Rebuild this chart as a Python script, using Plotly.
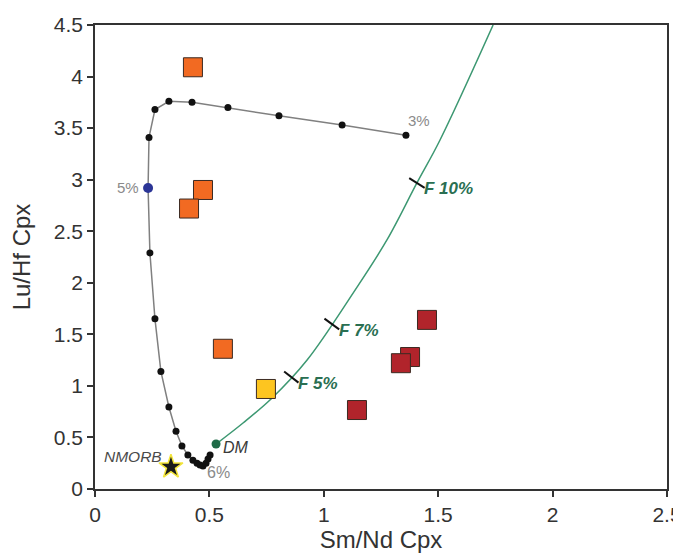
import plotly.graph_objects as go

# Black melting curve (Sm/Nd vs Lu/Hf)
curve_x = [1.359, 1.080, 0.804, 0.581, 0.424, 0.323, 0.262, 0.236, 0.232, 0.240, 0.262,
           0.288, 0.323, 0.354, 0.380, 0.406, 0.428, 0.446, 0.459, 0.472, 0.485, 0.494, 0.503]
curve_y = [3.43, 3.53, 3.62, 3.70, 3.75, 3.76, 3.68, 3.41, 2.92, 2.29, 1.65,
           1.14, 0.795, 0.56, 0.417, 0.33, 0.28, 0.25, 0.233, 0.223, 0.25, 0.29, 0.33]
blue_x = [0.232]
blue_y = [2.92]

# Green DM melting curve
dm_x = [0.529, 0.647, 0.774, 0.927, 1.128, 1.276, 1.407, 1.508, 1.740]
dm_y = [0.436, 0.640, 0.883, 1.251, 1.900, 2.415, 2.968, 3.385, 4.500]
f_x = [0.858, 1.035, 1.407]
f_y = [1.086, 1.600, 2.968]
f_labels = ["F 5%", "F 7%", "F 10%"]
f_angles = [38, 36, 32]

# Samples
orange_x = [0.428, 0.472, 0.411, 0.559]
orange_y = [4.09, 2.90, 2.72, 1.36]
yellow_x = [0.747]
yellow_y = [0.97]
red_x = [1.451, 1.377, 1.337, 1.145]
red_y = [1.64, 1.28, 1.22, 0.766]
nmorb_x = [0.332]
nmorb_y = [0.215]

x_ticks = [0, 0.5, 1, 1.5, 2, 2.5]
x_tick_text = ["0", "0.5", "1", "1.5", "2", "2.5"]
y_ticks = [0, 0.5, 1, 1.5, 2, 2.5, 3, 3.5, 4, 4.5]
y_tick_text = ["0", "0.5", "1", "1.5", "2", "2.5", "3", "3.5", "4", "4.5"]

GREEN_LINE = "#3d9872"
GREEN_TEXT = "#2a6f52"
FONT = "Liberation Sans, Arial, sans-serif"

fig = go.Figure()

fig.add_trace(go.Scatter(x=dm_x, y=dm_y, mode="lines",
                         line=dict(color=GREEN_LINE, width=1.5, shape="spline", smoothing=1.0),
                         hoverinfo="skip"))
fig.add_trace(go.Scatter(x=dm_x[:1], y=dm_y[:1], mode="markers",
                         marker=dict(color="#1f6b48", size=9)))
fig.add_trace(go.Scatter(x=f_x, y=f_y, mode="markers",
                         marker=dict(symbol="line-ew", size=13, angle=f_angles,
                                     line=dict(color="#111111", width=2))))

fig.add_trace(go.Scatter(x=curve_x, y=curve_y, mode="lines+markers",
                         line=dict(color="#808080", width=1.5),
                         marker=dict(color="#111111", size=7)))
fig.add_trace(go.Scatter(x=blue_x, y=blue_y, mode="markers",
                         marker=dict(color="#2b3596", size=10)))

sq_line = dict(color="#3b2a22", width=1)
fig.add_trace(go.Scatter(x=orange_x, y=orange_y, mode="markers",
                         marker=dict(symbol="square", size=19, color="#f26a22", line=sq_line)))
fig.add_trace(go.Scatter(x=yellow_x, y=yellow_y, mode="markers",
                         marker=dict(symbol="square", size=19, color="#fdc520", line=sq_line)))
fig.add_trace(go.Scatter(x=red_x, y=red_y, mode="markers",
                         marker=dict(symbol="square", size=19, color="#b1242b", line=sq_line)))
fig.add_trace(go.Scatter(x=nmorb_x, y=nmorb_y, mode="markers",
                         marker=dict(symbol="star", size=18, color="#1a1a1a",
                                     line=dict(color="#f3e53a", width=1.5))))

for fx, fy, lab in zip(f_x, f_y, f_labels):
    fig.add_annotation(x=fx, y=fy, text="<b><i>%s</i></b>" % lab, showarrow=False,
                       xanchor="left", yanchor="middle", xshift=5, yshift=-6,
                       font=dict(color=GREEN_TEXT, size=17, family=FONT))

fig.add_annotation(x=dm_x[0], y=dm_y[0], text="<i>DM</i>", showarrow=False, xanchor="left",
                   yanchor="middle", xshift=5, yshift=-3, font=dict(color="#3a3a3a", size=16, family=FONT))
fig.add_annotation(x=nmorb_x[0], y=nmorb_y[0], text="<i>NMORB</i>", showarrow=False, xanchor="right",
                   yanchor="middle", xshift=-7, yshift=10, font=dict(color="#4a4a4a", size=15.5, family=FONT))
fig.add_annotation(x=curve_x[-4], y=curve_y[-4], text="6%", showarrow=False, xanchor="left",
                   yanchor="top", xshift=2, yshift=4, font=dict(color="#8a8a8a", size=16, family=FONT))
fig.add_annotation(x=blue_x[0], y=blue_y[0], text="5%", showarrow=False, xanchor="right",
                   yanchor="middle", xshift=-7, font=dict(color="#8a8a8a", size=15, family=FONT))
fig.add_annotation(x=curve_x[0], y=curve_y[0], text="3%", showarrow=False, xanchor="left",
                   yanchor="bottom", xshift=0, yshift=4, font=dict(color="#8a8a8a", size=15, family=FONT))

axis_common = dict(showgrid=False, zeroline=False, showline=True, linecolor="#333333", linewidth=1.5,
                   mirror=True, ticks="outside", ticklen=6, tickwidth=1.5, tickcolor="#333333",
                   automargin=False, ticklabeloverflow="allow",
                   tickfont=dict(size=21, color="#333333", family=FONT))

# The page body adds an 8px margin, so the figure is placed to compensate.
fig.update_layout(
    width=681, height=548,
    margin=dict(l=87, r=22, t=17, b=67),
    paper_bgcolor="white", plot_bgcolor="white",
    showlegend=False,
    xaxis=dict(range=[0, 2.5], tickvals=x_ticks, ticktext=x_tick_text,
               title=dict(text="Sm/Nd Cpx", font=dict(size=24, color="#333333", family=FONT), standoff=6),
               **axis_common),
    yaxis=dict(range=[0, 4.5], tickvals=y_ticks, ticktext=y_tick_text,
               title=dict(text="Lu/Hf Cpx", font=dict(size=24, color="#333333", family=FONT), standoff=16),
               **axis_common),
)

fig.write_html("out.html")
